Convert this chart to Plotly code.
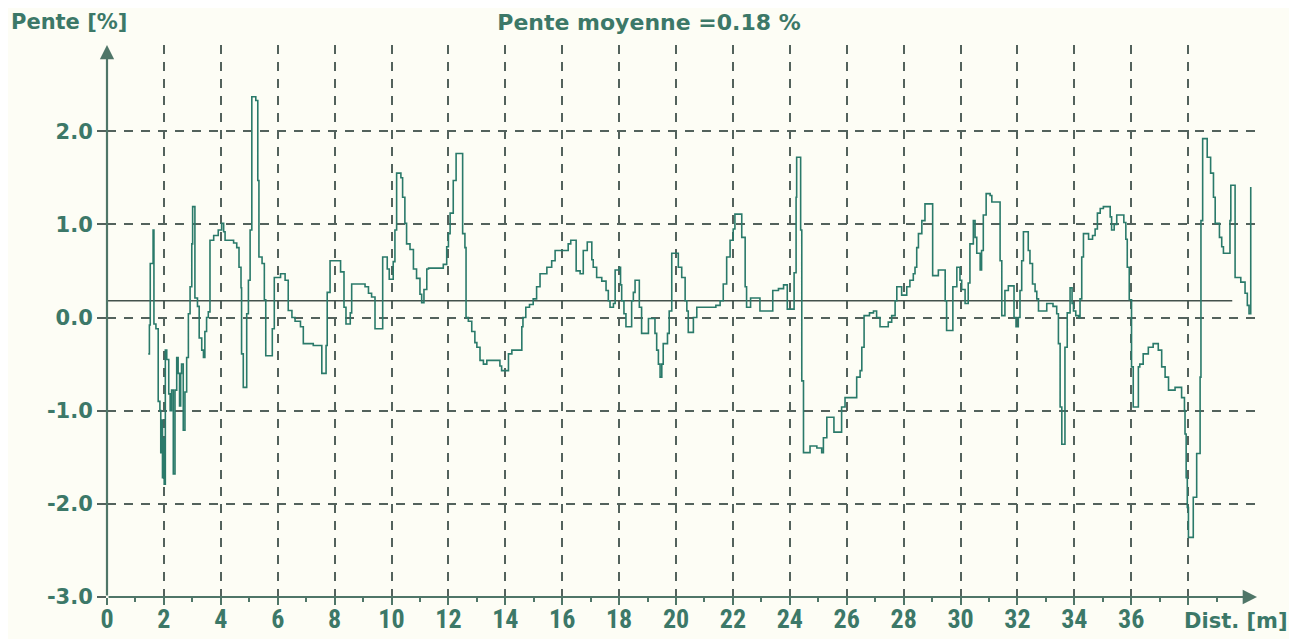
import plotly.graph_objects as go

# ---- data ----
dist_m = [1.45, 1.49, 1.52, 1.62, 1.65, 1.72, 1.80, 1.86, 1.89, 1.92, 1.95, 1.98, 2.01, 2.05, 2.10, 2.17,
          2.22, 2.27, 2.33, 2.39, 2.45, 2.50, 2.55, 2.59, 2.62, 2.68, 2.74, 2.80, 2.86, 2.92, 2.98, 3.01,
          3.09, 3.18, 3.24, 3.33, 3.39, 3.44, 3.50, 3.56, 3.62, 3.75, 3.91, 4.03, 4.10, 4.15, 4.45, 4.56,
          4.64, 4.71, 4.73, 4.79, 4.91, 4.97, 5.03, 5.09, 5.23, 5.30, 5.34, 5.45, 5.53, 5.58, 5.81, 5.88,
          6.10, 6.26, 6.37, 6.50, 6.61, 6.80, 6.90, 7.25, 7.55, 7.70, 7.74, 7.84, 8.21, 8.33, 8.40, 8.55,
          8.60, 9.07, 9.19, 9.30, 9.42, 9.69, 9.85, 9.92, 10.06, 10.12, 10.18, 10.33, 10.39, 10.47, 10.53,
          10.65, 10.77, 10.88, 11.00, 11.06, 11.14, 11.24, 11.30, 11.82, 11.94, 12.00, 12.06, 12.17, 12.27,
          12.50, 12.58, 12.62, 12.70, 12.82, 12.93, 13.00, 13.11, 13.23, 13.35, 13.81, 13.87, 14.11, 14.23,
          14.58, 14.62, 14.72, 14.85, 14.98, 15.10, 15.22, 15.46, 15.63, 15.75, 16.21, 16.30, 16.49, 16.63,
          16.74, 16.88, 17.04, 17.09, 17.21, 17.39, 17.54, 17.62, 17.68, 17.80, 17.86, 18.01, 18.05, 18.09,
          18.17, 18.24, 18.44, 18.50, 18.56, 18.71, 18.79, 19.03, 19.26, 19.32, 19.38, 19.44, 19.50, 19.55,
          19.70, 19.76, 19.85, 20.08, 20.20, 20.32, 20.38, 20.43, 20.61, 20.73, 21.40, 21.55, 21.66, 21.78,
          21.90, 22.01, 22.07, 22.31, 22.43, 22.48, 22.62, 22.95, 23.40, 23.60, 23.78, 23.91, 24.15, 24.22,
          24.24, 24.38, 24.42, 24.48, 24.71, 24.95, 25.12, 25.18, 25.30, 25.55, 25.82, 25.94, 26.35, 26.47,
          26.53, 26.61, 26.80, 26.94, 27.05, 27.17, 27.46, 27.58, 27.70, 27.76, 27.93, 28.11, 28.22, 28.34,
          28.40, 28.46, 28.52, 28.64, 28.75, 29.02, 29.22, 29.46, 29.51, 29.73, 29.87, 29.98, 30.04, 30.16,
          30.27, 30.33, 30.45, 30.51, 30.57, 30.69, 30.74, 30.80, 30.90, 31.04, 31.10, 31.39, 31.45, 31.56,
          31.68, 31.88, 31.95, 32.03, 32.09, 32.15, 32.21, 32.38, 32.44, 32.53, 32.62, 32.68, 32.74, 33.03,
          33.25, 33.38, 33.44, 33.50, 33.56, 33.67, 33.75, 33.85, 33.92, 33.97, 34.05, 34.15, 34.20, 34.26,
          34.32, 34.50, 34.64, 34.73, 34.81, 34.91, 35.02, 35.26, 35.31, 35.40, 35.49, 35.74, 35.81, 35.86,
          35.93, 36.01, 36.07, 36.25, 36.30, 36.42, 36.60, 36.77, 36.95, 37.07, 37.19, 37.31, 37.54, 37.77,
          37.87, 37.89, 37.93, 37.97, 38.01, 38.18, 38.30, 38.42, 38.45, 38.51, 38.67, 38.79, 38.89, 38.95,
          39.10, 39.18, 39.24, 39.47, 39.50, 39.65, 39.85, 40.00, 40.08, 40.14, 40.20]

slope_pct = [-0.39, -0.08, 0.58, 0.94, -0.07, -0.12, -0.90, -1.00, -1.45, -1.10, -1.72, -1.30, -1.79, -0.35, -0.45, -0.82,
             -1.00, -0.78, -1.68, -0.78, -0.43, -0.60, -0.95, -0.60, -0.50, -1.21, -0.80, -0.43, 0.04, 0.33, 0.79, 1.19,
             0.21, 0.12, -0.22, -0.35, -0.43, -0.15, 0.00, 0.06, 0.83, 0.88, 0.94, 1.01, 0.92, 0.83, 0.80, 0.75,
             0.54, 0.32, -0.39, -0.75, 0.04, 0.40, 0.94, 2.37, 2.33, 1.47, 0.65, 0.58, 0.19, -0.41, -0.12, 0.43,
             0.47, 0.40, 0.075, 0.00, -0.04, -0.10, -0.28, -0.30, -0.60, -0.30, 0.27, 0.61, 0.49, 0.11, -0.07, 0.05,
             0.36, 0.33, 0.26, 0.22, -0.12, 0.65, 0.52, 0.41, 0.60, 0.94, 1.55, 1.50, 1.29, 1.01, 0.79,
             0.73, 0.52, 0.42, 0.25, 0.16, 0.30, 0.52, 0.53, 0.57, 0.76, 0.90, 1.12, 1.47, 1.76,
             0.90, 0.75, 0.00, -0.04, -0.15, -0.27, -0.32, -0.46, -0.50, -0.46, -0.52, -0.57, -0.39, -0.35,
             -0.10, 0.00, 0.11, 0.14, 0.20, 0.33, 0.47, 0.54, 0.61, 0.72, 0.79, 0.83, 0.50, 0.47,
             0.72, 0.81, 0.62, 0.54, 0.43, 0.39, 0.29, 0.18, 0.11, 0.15, 0.51, 0.54, 0.35, 0.18,
             0.04, -0.10, 0.18, 0.27, 0.40, 0.11, -0.17, -0.01, -0.17, -0.35, -0.50, -0.64, -0.50, -0.28,
             -0.17, 0.07, 0.69, 0.54, 0.43, 0.18, 0.07, -0.16, 0.00, 0.11, 0.13, 0.18, 0.36, 0.65,
             0.83, 0.95, 1.11, 0.86, 0.33, 0.11, 0.21, 0.07, 0.29, 0.31, 0.35, 0.09, 0.48, 1.29,
             1.72, 0.94, -0.68, -1.45, -1.38, -1.40, -1.45, -1.29, -1.07, -1.23, -0.96, -0.86, -0.64, -0.57,
             -0.32, 0.02, 0.05, 0.07, 0.00, -0.10, -0.05, 0.02, 0.18, 0.33, 0.24, 0.33, 0.40, 0.47,
             0.54, 0.75, 0.90, 1.04, 1.22, 0.45, 0.51, 0.18, -0.14, 0.33, 0.54, 0.40, 0.30, 0.15,
             0.37, 0.79, 1.04, 0.86, 0.69, 0.51, 0.72, 1.10, 1.33, 1.31, 1.24, 0.61, 0.02, 0.29,
             0.34, 0.00, -0.10, 0.00, 0.29, 0.61, 0.92, 0.72, 0.58, 0.36, 0.28, 0.20, 0.07, 0.15,
             0.12, 0.04, -0.28, -0.96, -1.36, -0.32, 0.05, 0.32, 0.15, 0.07, 0.02, 0.00, 0.20, 0.65,
             0.90, 0.84, 0.88, 0.95, 1.12, 1.17, 1.19, 1.08, 0.94, 1.00, 1.10, 1.02, 0.84, 0.54,
             0.19, -0.53, -0.96, -0.53, -0.50, -0.39, -0.32, -0.28, -0.35, -0.53, -0.64, -0.78, -0.75, -0.86,
             -1.00, -1.25, -1.72, -2.04, -2.36, -1.93, -1.46, -0.64, 1.04, 1.92, 1.72, 1.55, 1.29, 1.01,
             0.86, 0.76, 0.69, 1.04, 1.42, 0.43, 0.38, 0.26, 0.13, 0.04, 1.40]

mean_slope = 0.18
mean_line_x = [0, 39.55]

x_tick_vals = list(range(0, 39, 2))
x_tick_text = [str(v) for v in range(0, 37, 2)] + [""]
y_tick_vals = [-3, -2, -1, 0, 1, 2]
y_tick_text = ["-3.0", "-2.0", "-1.0", "0.0", "1.0", "2.0"]

title_text = "Pente moyenne =0.18 %"
y_label = "Pente [%]"
x_label = "Dist. [m]"

# ---- styling ----
TEXT = "#3c7868"
LINE = "#2a7a6a"
GRID = "#53625c"
AXIS = "#4f7668"
BG = "#fdfdf5"
WIDE = "DejaVu Sans, Verdana, sans-serif"
NARROW = "Liberation Sans Narrow, Roboto Condensed, DejaVu Sans Condensed, Liberation Sans, sans-serif"

# figure sits 8px inside the window (page body margin)
FIG_W, FIG_H = 1289, 631
M_L, M_R, M_T, M_B = 99, 40, 37, 42
PLOT_W = FIG_W - M_L - M_R
PLOT_H = FIG_H - M_T - M_B

X_MAX = 40.42
Y_MIN, Y_MAX = -3.0, 2.925

fig = go.Figure()

fig.add_trace(go.Scatter(
    x=mean_line_x, y=[mean_slope] * len(mean_line_x), mode="lines",
    line=dict(color="#44524c", width=1.4), hoverinfo="skip", showlegend=False))

fig.add_trace(go.Scatter(
    x=dist_m, y=slope_pct, mode="lines", line_shape="hv",
    line=dict(color=LINE, width=1.6), showlegend=False, cliponaxis=False))

fig.update_layout(
    width=FIG_W, height=FIG_H,
    margin=dict(l=M_L, r=M_R, t=M_T, b=M_B, autoexpand=False),
    paper_bgcolor=BG, plot_bgcolor=BG,
    showlegend=False,
    title=dict(text=title_text, x=641 / FIG_W, xanchor="center", y=1 - 14 / FIG_H, yanchor="middle",
               font=dict(family=WIDE, size=22, color=TEXT, weight="bold")),
    xaxis=dict(range=[0, X_MAX], tickmode="array", tickvals=x_tick_vals, ticktext=x_tick_text,
               automargin=False,
               showgrid=True, gridcolor=GRID, griddash="9px,8px", gridwidth=1.6,
               zeroline=False, showline=False,
               ticks="outside", ticklen=7, tickwidth=2, tickcolor=AXIS,
               ticklabelstandoff=-8,
               minor=dict(dtick=1, tick0=0, ticks="outside", ticklen=4, tickwidth=2,
                          tickcolor=AXIS, showgrid=False),
               tickfont=dict(family=NARROW, size=26, color=TEXT, weight="bold"),
               fixedrange=True),
    yaxis=dict(range=[Y_MIN, Y_MAX], tickmode="array", tickvals=y_tick_vals, ticktext=y_tick_text,
               automargin=False,
               showgrid=True, gridcolor=GRID, griddash="9px,8px", gridwidth=1.6,
               zeroline=False, showline=False,
               ticks="outside", ticklen=9, tickwidth=2, tickcolor=GRID,
               tickfont=dict(family=WIDE, size=21, color=TEXT, weight="bold"),
               fixedrange=True),
)

# axes drawn as arrows
fig.add_annotation(x=X_MAX, y=Y_MIN, ax=0, ay=Y_MIN, xref="x", yref="y", axref="x", ayref="y",
                   showarrow=True, arrowhead=2, arrowsize=1.3, arrowwidth=2.2, arrowcolor=AXIS, text="")
fig.add_annotation(x=0, y=Y_MAX, ax=0, ay=Y_MIN, xref="x", yref="y", axref="x", ayref="y",
                   showarrow=True, arrowhead=2, arrowsize=1.3, arrowwidth=2.2, arrowcolor=AXIS, text="")

fig.add_annotation(text=y_label, xref="paper", yref="paper",
                   x=(61 - M_L) / PLOT_W, y=(M_T + PLOT_H - 14) / PLOT_H,
                   xanchor="center", yanchor="middle", showarrow=False,
                   font=dict(family=WIDE, size=21, color=TEXT, weight="bold"))
fig.add_annotation(text=x_label, xref="paper", yref="paper",
                   x=(1228 - M_L) / PLOT_W, y=(M_T + PLOT_H - 613) / PLOT_H,
                   xanchor="center", yanchor="middle", showarrow=False,
                   font=dict(family=WIDE, size=21, color=TEXT, weight="bold"))

fig.write_html("out.html")
